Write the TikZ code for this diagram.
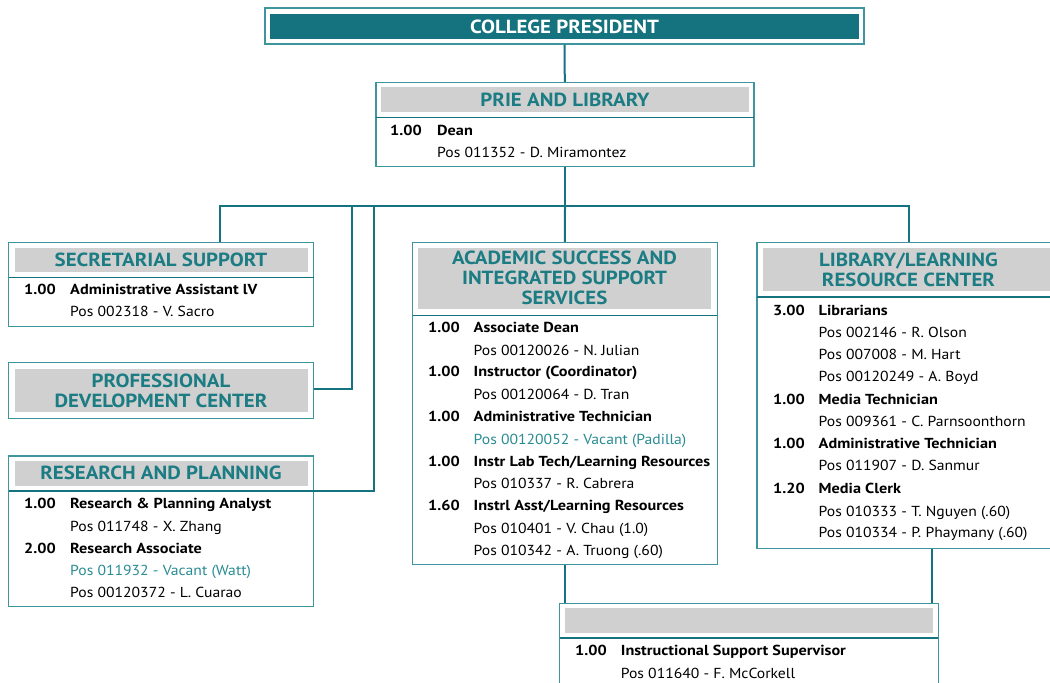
\documentclass[tikz,border=0pt]{standalone}
\usepackage{fontspec}
\setmainfont{PT Sans}[FakeStretch=1.08,BoldFeatures={FakeStretch=1.12}]
\newfontfamily\headfont{PT Sans}[BoldFeatures={FakeStretch=1.10}]

\definecolor{orgteal}{HTML}{14737E}
\definecolor{headteal}{HTML}{1C7C83}
\definecolor{vacteal}{HTML}{2A8C93}
\definecolor{edgeteal}{HTML}{3E959D}
\definecolor{barfill}{HTML}{D0D0D0}

\tikzset{
  unitbox/.style={draw=edgeteal,line width=1.2pt,fill=white,inner sep=0pt},
  titlebar/.style={fill=barfill,inner sep=0pt,text=headteal,align=center,
    font=\headfont\bfseries\fontsize{19}{20}\selectfont},
  fte/.style={anchor=base west,inner sep=0pt,font=\bfseries\fontsize{14.5}{16}\selectfont},
  job/.style={fte},
  posn/.style={anchor=base west,inner sep=0pt,font=\fontsize{14.5}{16}\selectfont},
  vacant/.style={posn,text=vacteal},
  link/.style={draw=orgteal,line width=2pt},
  sepline/.style={draw=orgteal,line width=1.6pt},
}

\begin{document}
\begin{tikzpicture}[x=1pt,y=-1pt]
  \useasboundingbox (0,0) rectangle (1050,683);
  \clip (0,0) rectangle (1050,683);

  % top of the chart
  \node[unitbox,minimum width=599,minimum height=36] (pres) at (564.5,26) {};
  \node[fill=orgteal,text=white,inner sep=0pt,minimum width=589,minimum height=25,
    font=\headfont\bfseries\fontsize{19}{20}\selectfont] (prest) at (564.5,26.5) {COLLEGE PRESIDENT};

  \node[unitbox,minimum width=378,minimum height=83.5] (prie) at (565,124.5) {};
  \node[titlebar,minimum width=368,minimum height=24.4] (priet) at (565,99.5) {PRIE AND LIBRARY};
  \draw[sepline] (376,117.3) -- (754,117.3);
  \node[fte] (prie-f1) at (390,135) {1.00};
  \node[job] (prie-j1) at (437,135) {Dean};
  \node[posn] (prie-p1) at (437,157.3) {Pos 011352 - D. Miramontez};

  % left column
  \node[unitbox,minimum width=305,minimum height=84] (sec) at (161,284.7) {};
  \node[titlebar,minimum width=293,minimum height=24] (sect) at (161,259.7) {SECRETARIAL SUPPORT};
  \draw[sepline] (8.5,277.3) -- (313.5,277.3);
  \node[fte] (sec-f1) at (24,294.3) {1.00};
  \node[job] (sec-j1) at (70,294.3) {Administrative Assistant lV};
  \node[posn] (sec-p1) at (70,316.7) {Pos 002318 - V. Sacro};

  \node[unitbox,minimum width=305,minimum height=55.6] (prof) at (161,390.5) {};
  \node[titlebar,minimum width=293,minimum height=42.4] (proft) at (161,390.5)
    {PROFESSIONAL\\DEVELOPMENT CENTER};

  \node[unitbox,minimum width=305,minimum height=150.7] (res) at (161,531.3) {};
  \node[titlebar,minimum width=293,minimum height=25] (rest) at (161,473.2) {RESEARCH AND PLANNING};
  \draw[sepline] (8.5,490.7) -- (313.5,490.7);
  \node[fte] (res-f1) at (24,508.3) {1.00};
  \node[job] (res-j1) at (70,508.3) {Research \& Planning Analyst};
  \node[posn] (res-p1) at (70,531) {Pos 011748 - X. Zhang};
  \node[fte] (res-f2) at (24,553.3) {2.00};
  \node[job] (res-j2) at (70,553.3) {Research Associate};
  \node[vacant] (res-p2) at (70,575) {Pos 011932 - Vacant (Watt)};
  \node[posn] (res-p3) at (70,597.7) {Pos 00120372 - L. Cuarao};

  % middle column
  \node[unitbox,minimum width=305,minimum height=322.3] (acad) at (564.7,403.6) {};
  \node[titlebar,minimum width=293,minimum height=61.3] (acadt) at (564.5,278.3)
    {ACADEMIC SUCCESS AND\\INTEGRATED SUPPORT\\SERVICES};
  \draw[sepline] (412.5,315.5) -- (717,315.5);
  \node[fte] (acad-f1) at (428,332.7) {1.00};
  \node[job] (acad-j1) at (473.5,332.7) {Associate Dean};
  \node[posn] (acad-p1) at (473.5,355) {Pos 00120026 - N. Julian};
  \node[fte] (acad-f2) at (428,376.7) {1.00};
  \node[job] (acad-j2) at (473.5,376.7) {Instructor (Coordinator)};
  \node[posn] (acad-p2) at (473.5,399.3) {Pos 00120064 - D. Tran};
  \node[fte] (acad-f3) at (428,421.7) {1.00};
  \node[job] (acad-j3) at (473.5,421.7) {Administrative Technician};
  \node[vacant] (acad-p3) at (473.5,444) {Pos 00120052 - Vacant (Padilla)};
  \node[fte] (acad-f4) at (428,466.7) {1.00};
  \node[job] (acad-j4) at (473.5,466.7) {Instr Lab Tech/Learning Resources};
  \node[posn] (acad-p4) at (473.5,488.3) {Pos 010337 - R. Cabrera};
  \node[fte] (acad-f5) at (428,510.7) {1.60};
  \node[job] (acad-j5) at (473.5,510.7) {Instrl Asst/Learning Resources};
  \node[posn] (acad-p5) at (473.5,533.3) {Pos 010401 - V. Chau (1.0)};
  \node[posn] (acad-p6) at (473.5,555) {Pos 010342 - A. Truong (.60)};

  % right column
  \node[unitbox,minimum width=303,minimum height=306] (lib) at (908.5,395.3) {};
  \node[titlebar,minimum width=291,minimum height=42.7] (libt) at (908.5,269.7)
    {LIBRARY/LEARNING\\RESOURCE CENTER};
  \draw[sepline] (757,296.7) -- (1060,296.7);
  \node[fte] (lib-f1) at (773,315) {3.00};
  \node[job] (lib-j1) at (818.5,315) {Librarians};
  \node[posn] (lib-p1) at (818.5,337.3) {Pos 002146 - R. Olson};
  \node[posn] (lib-p2) at (818.5,359.3) {Pos 007008 - M. Hart};
  \node[posn] (lib-p3) at (818.5,381.7) {Pos 00120249 - A. Boyd};
  \node[fte] (lib-f2) at (773,404) {1.00};
  \node[job] (lib-j2) at (818.5,404) {Media Technician};
  \node[posn] (lib-p4) at (818.5,426) {Pos 009361 - C. Parnsoonthorn};
  \node[fte] (lib-f3) at (773,448.3) {1.00};
  \node[job] (lib-j3) at (818.5,448.3) {Administrative Technician};
  \node[posn] (lib-p5) at (818.5,470.7) {Pos 011907 - D. Sanmur};
  \node[fte] (lib-f4) at (773,493.3) {1.20};
  \node[job] (lib-j4) at (818.5,493.3) {Media Clerk};
  \node[posn] (lib-p6) at (818.5,516) {Pos 010333 - T. Nguyen (.60)};
  \node[posn] (lib-p7) at (818.5,537.7) {Pos 010334 - P. Phaymany (.60)};

  % bottom
  \node[unitbox,minimum width=379,minimum height=92] (isup) at (748.7,649.3) {};
  \node[titlebar,minimum width=368,minimum height=24.4] (isupt) at (748.5,620.5) {};
  \draw[sepline] (559.5,637.7) -- (938,637.7);
  \node[fte] (isup-f1) at (575,655) {1.00};
  \node[job] (isup-j1) at (620.7,655) {Instructional Support Supervisor};
  \node[posn] (isup-p1) at (620.7,678.3) {Pos 011640 - F. McCorkell};

  % connectors
  \coordinate (bus) at (565,205.5);
  \coordinate (tapA) at (352.3,205.5);
  \coordinate (tapB) at (374,205.5);
  \coordinate (secin) at ([xshift=58.5]sec.north);
  \coordinate (isupin) at ([xshift=-6.6]isup.north east);
  \draw[link] (pres) -- (prie);
  \draw[link] (prie) -- (bus);
  \draw[link] (secin) |- (bus) -| (lib);
  \draw[link] (bus) -- (acad);
  \draw[link] (tapA) |- ([yshift=1.5]prof.east);
  \draw[link] (tapB) |- ([yshift=40.6]res.east);
  \draw[link] (acad) -- (acad.south |- isup.north);
  \draw[link] (isupin) -- (isupin |- lib.south);
\end{tikzpicture}
\end{document}
